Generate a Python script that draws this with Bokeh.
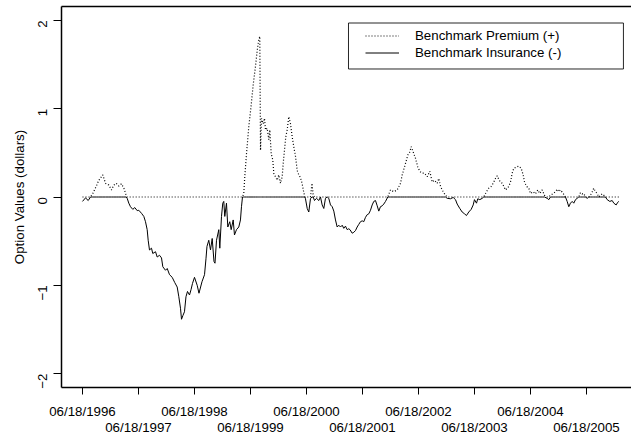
import math
import numpy as np
from bokeh.plotting import figure
from bokeh.models import (Range1d, FixedTicker, LinearAxis, Legend, LegendItem,
                          BoxAnnotation)
from bokeh.embed import file_html
from bokeh.resources import INLINE

# Observation times in decimal years (06/18/1996 = 1996.46)
t_years = [
    1996.460, 1996.514, 1996.562, 1996.603, 1996.644, 1996.705, 1996.751, 1996.823,
    1996.871, 1996.930, 1996.978, 1997.019, 1997.062, 1997.108, 1997.156, 1997.198,
    1997.240, 1997.258, 1997.287, 1997.317, 1997.358, 1997.394, 1997.437, 1997.465,
    1997.514, 1997.555, 1997.585, 1997.615, 1997.633, 1997.656, 1997.692, 1997.715,
    1997.764, 1997.794, 1997.835, 1997.871, 1997.894, 1997.942, 1997.973, 1998.014,
    1998.062, 1998.108, 1998.151, 1998.180, 1998.210, 1998.228, 1998.255, 1998.281,
    1998.308, 1998.335, 1998.371, 1998.398, 1998.424, 1998.460, 1998.508, 1998.540,
    1998.594, 1998.639, 1998.665, 1998.683, 1998.715, 1998.746, 1998.776, 1998.808,
    1998.826, 1998.853, 1998.894, 1998.912, 1998.942, 1998.965, 1998.983, 1999.001,
    1999.031, 1999.055, 1999.090, 1999.115, 1999.151, 1999.174, 1999.210, 1999.251,
    1999.281, 1999.299, 1999.317, 1999.340, 1999.358, 1999.389, 1999.430, 1999.469,
    1999.508, 1999.549, 1999.580, 1999.608, 1999.626, 1999.639, 1999.656, 1999.687,
    1999.710, 1999.728, 1999.758, 1999.787, 1999.805, 1999.830, 1999.858, 1999.876,
    1999.906, 1999.937, 1999.965, 1999.996, 2000.026, 2000.044, 2000.067, 2000.090,
    2000.115, 2000.144, 2000.174, 2000.205, 2000.233, 2000.264, 2000.294, 2000.323,
    2000.353, 2000.383, 2000.412, 2000.433, 2000.442, 2000.473, 2000.501, 2000.531,
    2000.558, 2000.580, 2000.603, 2000.639, 2000.680, 2000.710, 2000.740, 2000.769,
    2000.799, 2000.830, 2000.858, 2000.889, 2000.919, 2000.948, 2000.978, 2001.008,
    2001.037, 2001.067, 2001.098, 2001.126, 2001.156, 2001.187, 2001.215, 2001.237,
    2001.276, 2001.305, 2001.335, 2001.365, 2001.394, 2001.424, 2001.455, 2001.483,
    2001.514, 2001.544, 2001.573, 2001.603, 2001.633, 2001.662, 2001.692, 2001.723,
    2001.751, 2001.781, 2001.812, 2001.840, 2001.871, 2001.912, 2001.960, 2002.019,
    2002.080, 2002.139, 2002.169, 2002.210, 2002.246, 2002.269, 2002.305, 2002.330,
    2002.365, 2002.406, 2002.448, 2002.483, 2002.526, 2002.567, 2002.615, 2002.662,
    2002.705, 2002.746, 2002.794, 2002.823, 2002.853, 2002.901, 2002.942, 2002.973,
    2003.031, 2003.080, 2003.121, 2003.151, 2003.198, 2003.240, 2003.281, 2003.317,
    2003.358, 2003.401, 2003.437, 2003.460, 2003.496, 2003.519, 2003.555, 2003.598,
    2003.626, 2003.674, 2003.715, 2003.758, 2003.794, 2003.835, 2003.865, 2003.894,
    2003.924, 2003.955, 2003.983, 2004.014, 2004.044, 2004.073, 2004.103, 2004.133,
    2004.162, 2004.210, 2004.251, 2004.294, 2004.330, 2004.353, 2004.389, 2004.430,
    2004.460, 2004.508, 2004.549, 2004.590, 2004.626, 2004.669, 2004.710, 2004.758,
    2004.787, 2004.817, 2004.865, 2004.906, 2004.937, 2004.965, 2004.996, 2005.044,
    2005.085, 2005.115, 2005.144, 2005.174, 2005.205, 2005.233, 2005.264, 2005.294,
    2005.323, 2005.353, 2005.383, 2005.412, 2005.442, 2005.473, 2005.501, 2005.531,
    2005.562, 2005.590, 2005.621, 2005.651, 2005.680, 2005.710, 2005.740, 2005.769,
    2005.799, 2005.830, 2005.876, 2005.919, 2005.948, 2005.990, 2006.019, 2006.037,
]

# Net benchmark option value (dollars): positive = premium, negative = insurance
net_value = [
    -0.05, -0.01, -0.04, 0.00, 0.04, 0.12, 0.19, 0.25,
    0.155, 0.135, 0.08, 0.135, 0.155, 0.125, 0.15, 0.10,
    0.02, -0.015, -0.07, -0.11, -0.14, -0.12, -0.155, -0.15,
    -0.185, -0.22, -0.28, -0.37, -0.49, -0.60, -0.58, -0.64,
    -0.62, -0.68, -0.66, -0.69, -0.79, -0.83, -0.81, -0.88,
    -0.91, -0.97, -1.02, -1.13, -1.26, -1.385, -1.34, -1.30,
    -1.13, -1.07, -1.11, -1.05, -0.98, -0.91, -1.00, -1.09,
    -0.96, -0.88, -0.70, -0.56, -0.49, -0.60, -0.47, -0.73,
    -0.75, -0.49, -0.37, -0.58, -0.22, -0.07, -0.05, -0.22,
    -0.07, -0.34, -0.28, -0.37, -0.26, -0.43, -0.37, -0.34,
    -0.26, -0.11, 0.00, 0.04, 0.23, 0.49, 0.80, 1.02,
    1.27, 1.48, 1.66, 1.78, 1.82, 0.53, 0.89, 0.83,
    0.89, 0.76, 0.78, 0.65, 0.76, 0.49, 0.42, 0.27,
    0.23, 0.19, 0.25, 0.155, 0.23, 0.38, 0.53, 0.68,
    0.76, 0.91, 0.83, 0.68, 0.57, 0.46, 0.30, 0.25,
    0.22, 0.15, 0.05, 0.00, -0.02, -0.13, -0.17, -0.02,
    0.155, 0.02, -0.04, -0.015, -0.04, 0.00, -0.09, -0.13,
    -0.015, 0.00, -0.015, -0.09, -0.11, -0.16, -0.26, -0.34,
    -0.32, -0.34, -0.32, -0.355, -0.33, -0.37, -0.36, -0.37,
    -0.41, -0.40, -0.38, -0.34, -0.31, -0.28, -0.27, -0.28,
    -0.23, -0.20, -0.19, -0.15, -0.09, -0.05, -0.04, -0.10,
    -0.16, -0.11, -0.10, -0.08, -0.05, 0.00, 0.08, 0.06,
    0.08, 0.155, 0.25, 0.34, 0.42, 0.475, 0.51, 0.57,
    0.51, 0.44, 0.34, 0.29, 0.27, 0.27, 0.23, 0.29,
    0.17, 0.19, 0.155, 0.21, 0.12, 0.06, 0.02, -0.015,
    -0.02, -0.005, -0.03, -0.08, -0.13, -0.17, -0.19, -0.21,
    -0.17, -0.14, -0.09, -0.03, -0.07, -0.02, -0.03, -0.015,
    0.00, 0.06, 0.10, 0.12, 0.155, 0.21, 0.24, 0.20,
    0.17, 0.155, 0.12, 0.08, 0.10, 0.12, 0.17, 0.27,
    0.325, 0.34, 0.35, 0.325, 0.25, 0.17, 0.12, 0.10,
    0.04, 0.06, 0.035, 0.08, 0.04, 0.08, 0.02, -0.015,
    -0.03, 0.02, 0.04, 0.06, 0.09, 0.06, 0.08, 0.04,
    0.00, -0.05, -0.11, -0.07, -0.05, -0.07, -0.03, -0.015,
    0.00, 0.05, 0.035, 0.04, 0.00, -0.015, 0.00, 0.02,
    0.06, 0.10, 0.06, 0.04, 0.00, 0.02, 0.035, 0.02,
    0.00, -0.03, -0.05, -0.04, -0.07, -0.09, -0.06, -0.05,
]

tick_years = [1996, 1997, 1998, 1999, 2000, 2001, 2002, 2003, 2004, 2005]
tick_labels = ["06/18/1996", "06/18/1997", "06/18/1998", "06/18/1999", "06/18/2000",
               "06/18/2001", "06/18/2002", "06/18/2003", "06/18/2004", "06/18/2005"]
y_ticks = [-2, -1, 0, 1, 2]

series_names = ["Benchmark Premium (+)", "Benchmark Insurance (-)"]

JUNE_18 = 0.46
tick_pos = [y + JUNE_18 for y in tick_years]

values = np.array(net_value)
premium = np.maximum(values, 0.0)
insurance = np.minimum(values, 0.0)

FONT = "Liberation Sans"
FS = "13.3px"

p = figure(width=631, height=444, output_backend="svg", toolbar_location=None,
           x_range=Range1d(1996.085, 2006.264), y_range=Range1d(-2.158, 2.158),
           min_border_left=61, min_border_right=0, min_border_top=6,
           min_border_bottom=57)
p.outline_line_color = None
p.xgrid.visible = False
p.ygrid.visible = False
p.background_fill_color = "white"
p.border_fill_color = "white"

r_prem = p.line(t_years, premium, line_color="black", line_width=1.2, line_dash="1 2")
r_ins = p.line(t_years, insurance, line_color="black", line_width=1.0)

# bottom axis: tick marks for every year, labels for even years
xa = p.xaxis[0]
xa.ticker = FixedTicker(ticks=tick_pos)
xa.major_label_overrides = {tp: (lab if i % 2 == 0 else "")
                            for i, (tp, lab) in enumerate(zip(tick_pos, tick_labels))}
xa.major_tick_out = 7
xa.major_tick_in = 0
xa.minor_tick_line_color = None
xa.axis_line_color = "black"
xa.axis_line_width = 1.5
xa.major_tick_line_color = "black"
xa.major_label_standoff = 9
xa.major_label_text_font = FONT
xa.major_label_text_font_size = FS
xa.major_label_text_color = "black"

# second row of date labels for odd years
xa2 = LinearAxis(ticker=FixedTicker(ticks=tick_pos[1::2]))
xa2.major_label_overrides = {tp: lab for tp, lab in zip(tick_pos[1::2], tick_labels[1::2])}
xa2.axis_line_color = None
xa2.major_tick_line_color = None
xa2.minor_tick_line_color = None
xa2.major_tick_out = 0
xa2.major_tick_in = 0
xa2.major_label_standoff = -2
xa2.major_label_text_font = FONT
xa2.major_label_text_font_size = FS
xa2.major_label_text_color = "black"
p.add_layout(xa2, "below")

# top edge of the plot box
top = LinearAxis(ticker=FixedTicker(ticks=[]))
top.axis_line_color = "black"
top.axis_line_width = 1.5
top.major_tick_line_color = None
top.minor_tick_line_color = None
top.major_tick_out = 0
top.major_tick_in = 0
top.major_label_standoff = 0
top.major_label_text_font_size = "0px"
p.add_layout(top, "above")

ya = p.yaxis[0]
ya.ticker = FixedTicker(ticks=y_ticks)
ya.major_tick_out = 8
ya.major_tick_in = 0
ya.minor_tick_line_color = None
ya.axis_line_color = "black"
ya.axis_line_width = 1.5
ya.major_label_orientation = math.pi / 2
ya.major_label_standoff = 11
ya.major_label_text_font = FONT
ya.major_label_text_font_size = FS
ya.major_label_text_color = "black"
ya.axis_label = "Option Values (dollars)"
ya.axis_label_text_font = FONT
ya.axis_label_text_font_size = FS
ya.axis_label_text_font_style = "normal"
ya.axis_label_text_color = "black"
ya.axis_label_standoff = 4

# legend frame
box = BoxAnnotation(left=2001.21, right=2006.12, top=1.971, bottom=1.450,
                    fill_color=None, fill_alpha=0, line_color="black", line_width=1,
                    line_alpha=0.85)
p.add_layout(box)

legend = Legend(items=[LegendItem(label=series_names[0], renderers=[r_prem]),
                       LegendItem(label=series_names[1], renderers=[r_ins])],
                location=(304, 326), padding=0, margin=0, spacing=0,
                glyph_width=34, glyph_height=17, label_height=17, label_standoff=16,
                border_line_color=None, background_fill_alpha=0,
                label_text_font=FONT, label_text_font_size=FS, label_text_color="black")
p.add_layout(legend)

open("out.html", "w").write(file_html(p, INLINE, title="Benchmark option values"))
